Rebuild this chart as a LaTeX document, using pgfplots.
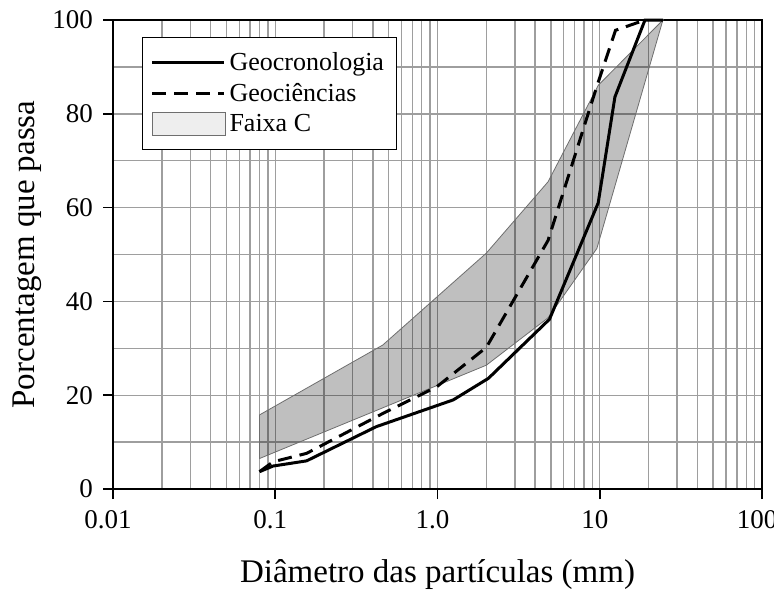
\documentclass[border=0pt]{standalone}
\usepackage{pgfplots}
\pgfplotsset{compat=1.18}
\usepackage{fontspec}
\setmainfont{Liberation Serif}
\definecolor{gridgray}{RGB}{158,158,158}
\definecolor{bandedge}{RGB}{110,110,110}
\pgfplotsset{
  lineleg/.style={legend image code/.code={\draw[##1] (0pt,0pt) -- (36pt,0pt);}},
  bandleg/.style={legend image code/.code={\fill[black!25,draw=bandedge] (0pt,-5.75pt) rectangle (36.5pt,5.75pt);}},
}
\begin{document}
\begin{tikzpicture}
\begin{axis}[
  scale only axis,
  width=324.5pt, height=234.5pt,
  at={(0,0)}, anchor=south west,
  xmode=log, xmin=0.01, xmax=100,
  ymin=0, ymax=100,
  xtick={0.01,0.1,1,10,100},
  xticklabels={0.01,0.1,1.0,10,100},
  ytick={0,20,40,60,80,100},
  minor ytick={10,30,50,70,90},
  grid=both,
  major grid style={gridgray, line width=0.7pt},
  minor grid style={gridgray, line width=0.7pt},
  axis line style={black, line width=1pt},
  tick style={black, line width=0.8pt},
  major tick length=5pt, minor tick length=0pt,
  tick align=outside, tick pos=left,
  /pgf/number format/assume math mode=true,
  ticklabel style={font=\fontsize{13.5}{16}\selectfont},
  xticklabel style={xshift=-2.5pt, yshift=-2pt},
  yticklabel style={xshift=-1.5pt},
  xlabel={Diâmetro das partículas (mm)},
  ylabel={Porcentagem que passa},
  label style={font=\fontsize{16.5}{19}\selectfont},
  xlabel style={at={(axis description cs:0.5,-0.1834)}, anchor=center},
  ylabel style={at={(axis description cs:-0.1325,0.5)}, anchor=center},
  clip=false,
  legend cell align=left,
  reverse legend,
  legend style={at={(axis description cs:0.0447,0.9638)}, anchor=north west,
    draw=black, line width=0.5pt, fill=white,
    font=\fontsize{13}{15}\selectfont,
    inner xsep=4pt, inner ysep=5.5pt, row sep=0.8pt},
]
% Faixa C band
\addplot[fill=black, fill opacity=0.25, draw=bandedge, line width=0.4pt, bandleg]
coordinates {
 (0.08,15.8) (0.46,30.7) (2.0,50.3) (4.8,65.5) (9.8,86.1) (24.5,100)
 (9.6,51.3) (4.8,36.5) (2.0,26.4) (0.08,6.5) (0.08,15.8)
};
\addlegendentry{Faixa C}
% Geociencias
\addplot[black, line width=1.5pt, dash pattern=on 7pt off 4pt, lineleg]
coordinates {
 (0.08,3.7) (0.097,5.8) (0.156,7.6) (0.46,16.1) (0.99,21.8) (2.0,30.2)
 (4.8,53) (9.5,85.4) (12.5,97.8) (19,100)
};
\addlegendentry{Geociências}
% Geocronologia
\addplot[black, line width=1.5pt, lineleg]
coordinates {
 (0.08,3.7) (0.097,4.9) (0.156,6.0) (0.42,13.3) (1.25,19.0) (2.06,23.6)
 (4.9,36.2) (9.78,61) (12.4,83.6) (19,100) (24.5,100)
};
\addlegendentry{Geocronologia}
\end{axis}
\pgfresetboundingbox
\path[use as bounding box] (-56.5pt,-50.5pt) rectangle (330.5pt,244.5pt);
\end{tikzpicture}
\end{document}
